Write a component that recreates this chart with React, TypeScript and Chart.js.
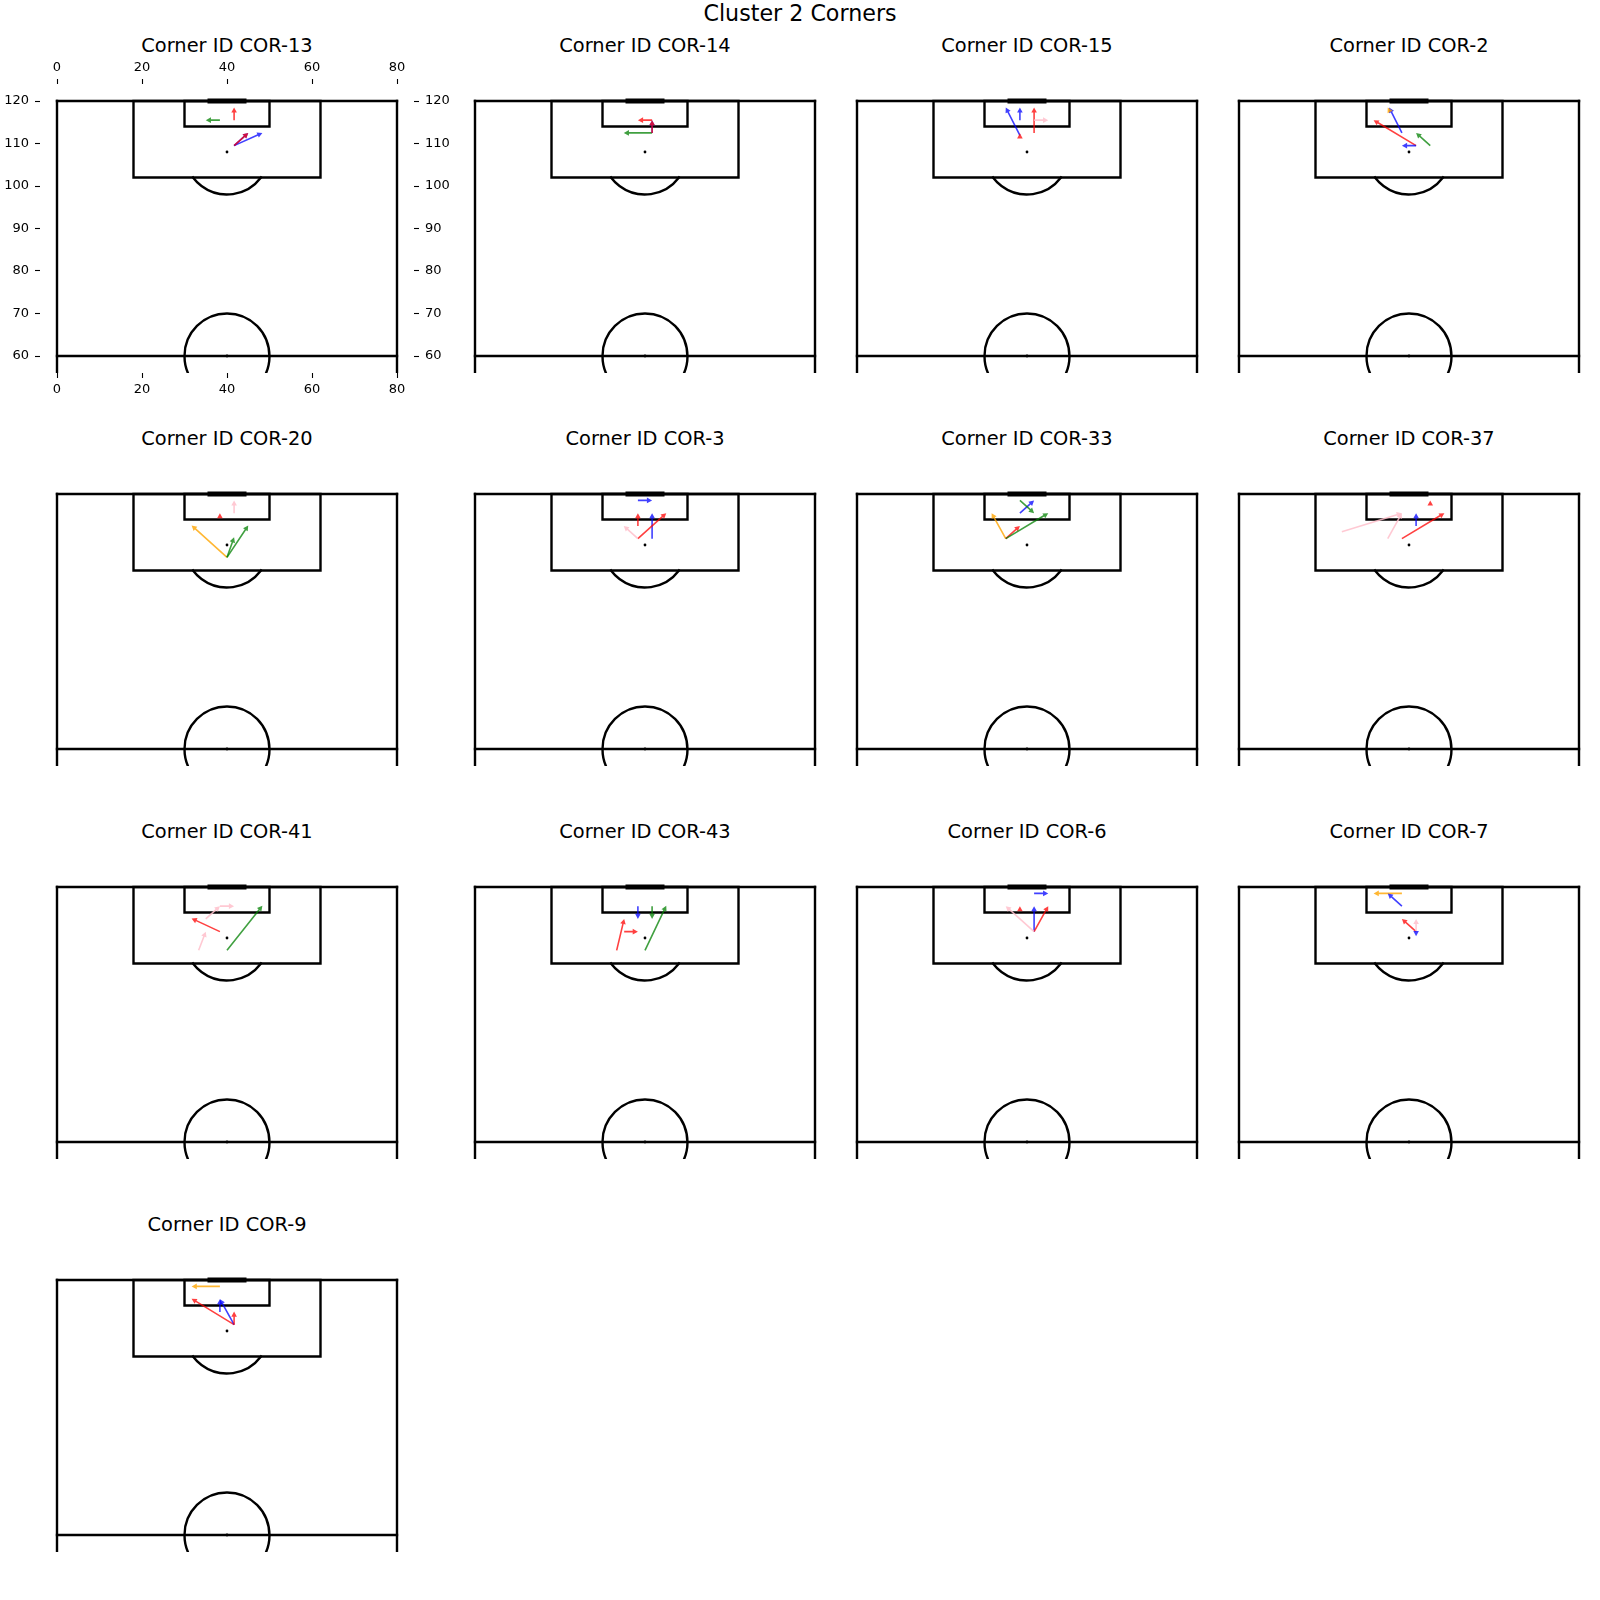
import React, { useEffect, useRef } from 'react';
import { Chart, registerables } from 'chart.js';

Chart.register(...registerables);

type Arrow = [number, number, number, number, string];

const figureTitle = 'Cluster 2 Corners';
const cornerIds = ['COR-13', 'COR-14', 'COR-15', 'COR-2', 'COR-20', 'COR-3', 'COR-33', 'COR-37', 'COR-41', 'COR-43', 'COR-6', 'COR-7', 'COR-9'];

// arrows: [xStart, yStart, xEnd, yEnd, colour]
const cor13: Arrow[] = [
  [38.33, 115.5, 35, 115.5, 'green'],
  [41.67, 115.5, 41.67, 118.5, 'red'],
  [41.67, 109.5, 48.33, 112.5, 'blue'],
  [41.67, 109.5, 45, 112.5, 'blue'],
  [41.67, 109.5, 45, 112.5, 'red'],
];
const cor14: Arrow[] = [
  [41.67, 115.5, 38.33, 115.5, 'red'],
  [41.67, 112.5, 35, 112.5, 'green'],
  [41.67, 112.5, 41.67, 115.5, 'blue'],
  [41.67, 112.5, 41.67, 115.5, 'red'],
];
const cor15: Arrow[] = [
  [38.33, 111.9, 35, 118.5, 'blue'],
  [38.33, 111.3, 38.33, 112.4, 'red'],
  [38.33, 115.5, 38.33, 118.5, 'blue'],
  [41.67, 112.5, 41.67, 118.5, 'red'],
  [41.67, 115.5, 45, 115.5, 'pink'],
];
const cor2: Arrow[] = [
  [38.33, 112.5, 35.33, 118.5, 'blue'],
  [41.67, 109.5, 31.67, 115.5, 'red'],
  [41.67, 109.5, 38.33, 109.5, 'blue'],
  [45, 109.5, 41.67, 112.5, 'green'],
  [35.5, 117.5, 35, 118.5, 'orange'],
];
const cor20: Arrow[] = [
  [41.67, 115.5, 41.67, 118.5, 'pink'],
  [38.33, 114.3, 38.33, 115.5, 'red'],
  [40, 105.1, 31.67, 112.6, 'orange'],
  [40, 105.1, 45, 112.6, 'green'],
  [40, 105.1, 41.67, 109.8, 'green'],
];
const cor3: Arrow[] = [
  [38.33, 118.5, 41.67, 118.5, 'blue'],
  [38.33, 112.5, 38.33, 115.5, 'red'],
  [41.67, 109.5, 41.67, 115.5, 'blue'],
  [38.33, 109.5, 45, 115.5, 'red'],
  [38.33, 109.5, 35, 112.5, 'pink'],
];
const cor33: Arrow[] = [
  [38.33, 115.5, 41.67, 118.5, 'blue'],
  [38.33, 118.5, 41.67, 115.5, 'green'],
  [35, 109.5, 31.67, 115.5, 'orange'],
  [35, 109.5, 38.33, 112.5, 'red'],
  [35, 109.5, 45, 115.5, 'green'],
];
const cor37: Arrow[] = [
  [45, 117.4, 45, 118.5, 'red'],
  [24.2, 111.1, 38.33, 115.5, 'pink'],
  [35, 109.5, 38.33, 115.5, 'pink'],
  [41.67, 112.5, 41.67, 115.5, 'blue'],
  [38.33, 109.5, 48.33, 115.5, 'red'],
];
const cor41: Arrow[] = [
  [35, 112.5, 38.33, 115.5, 'pink'],
  [38.33, 115.5, 41.67, 115.5, 'pink'],
  [33.33, 105.1, 35, 109.5, 'pink'],
  [38.33, 109.5, 31.67, 112.6, 'red'],
  [40, 105.1, 48.33, 115.6, 'green'],
];
const cor43: Arrow[] = [
  [38.33, 115.5, 38.33, 112.5, 'blue'],
  [41.67, 115.5, 41.67, 112.5, 'green'],
  [40, 105.1, 45, 115.6, 'green'],
  [33.33, 105.1, 35.1, 112.5, 'red'],
  [35.1, 109.5, 38.33, 109.5, 'red'],
];
const cor6: Arrow[] = [
  [41.67, 118.5, 45, 118.5, 'blue'],
  [38.33, 114.3, 38.33, 115.5, 'red'],
  [41.67, 109.5, 41.67, 115.5, 'blue'],
  [41.67, 109.5, 45, 115.5, 'red'],
  [41.67, 109.5, 35, 115.5, 'pink'],
];
const cor7: Arrow[] = [
  [38.33, 118.5, 31.67, 118.5, 'orange'],
  [38.33, 115.5, 35, 118.5, 'blue'],
  [41.67, 109.5, 38.33, 112.5, 'red'],
  [41.67, 109.5, 41.67, 112.5, 'pink'],
  [41.67, 109.5, 41.67, 108.4, 'blue'],
];
const cor9: Arrow[] = [
  [38.33, 118.5, 31.67, 118.5, 'orange'],
  [41.67, 109.5, 31.67, 115.6, 'red'],
  [41.67, 109.5, 38.33, 115.5, 'blue'],
  [38.33, 112.5, 38.33, 115.5, 'blue'],
  [41.67, 109.5, 41.67, 112.6, 'red'],
];
const cornerArrows: Arrow[][] = [cor13, cor14, cor15, cor2, cor20, cor3, cor33, cor37, cor41, cor43, cor6, cor7, cor9];

const xTicks = [0, 20, 40, 60, 80];
const yTicks = [60, 70, 80, 90, 100, 110, 120];

// pitch geometry (StatsBomb 80 x 120, vertical half)
const pitchLines: [number, number, number, number][] = [
  [0, 0, 0, 120],
  [80, 0, 80, 120],
  [0, 120, 80, 120],
  [0, 60, 80, 60],
];
const pitchBoxes: [number, number, number, number][] = [
  [18, 102, 62, 120],
  [30, 114, 50, 120],
];
const goalLine: [number, number, number, number] = [36, 120, 44, 120];
const pitchSpots: [number, number][] = [[40, 108], [40, 60]];

const COLORS: Record<string, string> = {
  red: 'rgba(255,0,0,0.75)',
  blue: 'rgba(0,0,255,0.75)',
  green: 'rgba(0,128,0,0.75)',
  orange: 'rgba(255,165,0,0.8)',
  pink: 'rgba(255,192,203,0.85)',
};

const COL_LEFT = [40, 458, 840, 1222];
const ROW_TOP = [84, 477, 870, 1263];
const AX_W = 374;
const AX_H = 289;

function drawArrow(ctx: CanvasRenderingContext2D, x1: number, y1: number, x2: number, y2: number) {
  const dx = x2 - x1;
  const dy = y2 - y1;
  const len = Math.hypot(dx, dy);
  if (len < 0.01) return;
  const ux = dx / len;
  const uy = dy / len;
  const px = -uy;
  const py = ux;
  const hl = 5.2;
  const hw = 2.8;
  const sw = 0.8;
  ctx.beginPath();
  const bx = x2 - ux * hl;
  const by = y2 - uy * hl;
  if (len > hl) {
    ctx.moveTo(x1 + px * sw, y1 + py * sw);
    ctx.lineTo(bx + px * sw, by + py * sw);
    ctx.lineTo(bx + px * hw, by + py * hw);
    ctx.lineTo(x2, y2);
    ctx.lineTo(bx - px * hw, by - py * hw);
    ctx.lineTo(bx - px * sw, by - py * sw);
    ctx.lineTo(x1 - px * sw, y1 - py * sw);
  } else {
    ctx.moveTo(bx + px * hw, by + py * hw);
    ctx.lineTo(x2, y2);
    ctx.lineTo(bx - px * hw, by - py * hw);
  }
  ctx.closePath();
  ctx.fill();
}

function Pitch({ idx, withAxes, left, top, width, height }: { idx: number; withAxes: boolean; left: number; top: number; width: number; height: number }) {
  const ref = useRef<HTMLCanvasElement | null>(null);
  useEffect(() => {
    if (!ref.current) return;
    const arrows = cornerArrows[idx];
    const tickFont = { family: 'DejaVu Sans', size: 13 };
    const axis = (pos: string, isX: boolean) => ({
      type: 'linear',
      axis: isX ? 'x' : 'y',
      position: pos,
      min: isX ? -4 : 56,
      max: isX ? 84 : 124,
      display: withAxes,
      afterBuildTicks: (s: any) => {
        s.ticks = (isX ? xTicks : yTicks).map((v) => ({ value: v }));
      },
      afterFit: (s: any) => {
        if (!withAxes) {
          s.width = 0;
          s.height = 0;
          return;
        }
        if (isX) s.height = 34;
        else s.width = pos === 'left' ? 40 : 44;
      },
      grid: { display: true, drawOnChartArea: false, drawTicks: true, tickLength: 5, tickColor: '#000', tickWidth: 1.1 },
      border: { display: false },
      ticks: {
        color: '#000',
        font: tickFont,
        padding: isX ? 4 : 6,
        autoSkip: false,
        maxRotation: 0,
        callback: (v: any) => String(v),
      },
    });
    const pitchPlugin = {
      id: 'pitchDraw',
      afterDatasetsDraw(chart: any) {
        const ctx: CanvasRenderingContext2D = chart.ctx;
        const xs = chart.scales.x;
        const ys = chart.scales.y;
        const X = (v: number) => xs.getPixelForValue(v);
        const Y = (v: number) => ys.getPixelForValue(v);
        const unit = X(10) - X(0);
        const a = chart.chartArea;
        ctx.save();
        ctx.beginPath();
        ctx.rect(a.left, a.top, a.right - a.left, a.bottom - a.top);
        ctx.clip();
        ctx.strokeStyle = '#000';
        ctx.lineWidth = 2.4;
        ctx.lineCap = 'square';
        ctx.lineJoin = 'miter';
        for (const [x1, y1, x2, y2] of pitchLines) {
          ctx.beginPath();
          ctx.moveTo(X(x1), Y(y1));
          ctx.lineTo(X(x2), Y(y2));
          ctx.stroke();
        }
        for (const [x1, y1, x2, y2] of pitchBoxes) {
          ctx.beginPath();
          ctx.rect(X(x1), Y(y2), X(x2) - X(x1), Y(y1) - Y(y2));
          ctx.stroke();
        }
        const ang = Math.asin(0.6);
        ctx.beginPath();
        ctx.arc(X(40), Y(108), unit, ang, Math.PI - ang);
        ctx.stroke();
        ctx.beginPath();
        ctx.arc(X(40), Y(60), unit, 0, Math.PI * 2);
        ctx.stroke();
        ctx.lineWidth = 5;
        ctx.beginPath();
        ctx.moveTo(X(goalLine[0]), Y(goalLine[1]));
        ctx.lineTo(X(goalLine[2]), Y(goalLine[3]));
        ctx.stroke();
        ctx.fillStyle = '#000';
        for (const [sx, sy] of pitchSpots) {
          ctx.beginPath();
          ctx.arc(X(sx), Y(sy), 1.4, 0, Math.PI * 2);
          ctx.fill();
        }
        for (const [x1, y1, x2, y2, c] of arrows) {
          ctx.fillStyle = COLORS[c] || c;
          drawArrow(ctx, X(x1), Y(y1), X(x2), Y(y2));
        }
        ctx.restore();
      },
    };
    const chart = new Chart(ref.current, {
      type: 'scatter',
      data: { datasets: [] },
      options: {
        responsive: false,
        animation: false,
        devicePixelRatio: 1,
        layout: { padding: 0, autoPadding: false },
        plugins: { legend: { display: false }, tooltip: { enabled: false }, title: { display: false } },
        scales: {
          x: axis('bottom', true),
          x2: axis('top', true),
          y: axis('left', false),
          y2: axis('right', false),
        } as any,
      },
      plugins: [pitchPlugin],
    } as any);
    return () => chart.destroy();
  }, [idx, withAxes]);
  return (
    <canvas
      ref={ref}
      width={width}
      height={height}
      style={{ position: 'absolute', left, top, width, height }}
    />
  );
}

export default function App() {
  return (
    <div style={{ position: 'absolute', left: 0, top: 0, width: 1600, height: 1600, background: '#fff', overflow: 'hidden', fontFamily: 'DejaVu Sans' }}>
      <div style={{ position: 'absolute', left: 0, top: 0, width: 1600, textAlign: 'center', fontSize: 22.2, lineHeight: '26px', color: '#000' }}>
        {figureTitle}
      </div>
      {cornerIds.map((id, i) => {
        const col = i % 4;
        const row = Math.floor(i / 4);
        const axL = COL_LEFT[col];
        const axT = ROW_TOP[row];
        const withAxes = i === 0;
        const cl = withAxes ? axL - 40 : axL;
        const ct = withAxes ? axT - 34 : axT;
        const cw = withAxes ? AX_W + 84 : AX_W;
        const ch = withAxes ? AX_H + 68 : AX_H;
        return (
          <React.Fragment key={id}>
            <div style={{ position: 'absolute', left: axL, top: axT - 39 - 11, width: AX_W, textAlign: 'center', fontSize: 19.4, lineHeight: '23px', color: '#000', whiteSpace: 'nowrap' }}>
              {'Corner ID ' + id}
            </div>
            <Pitch idx={i} withAxes={withAxes} left={cl} top={ct} width={cw} height={ch} />
          </React.Fragment>
        );
      })}
    </div>
  );
}
